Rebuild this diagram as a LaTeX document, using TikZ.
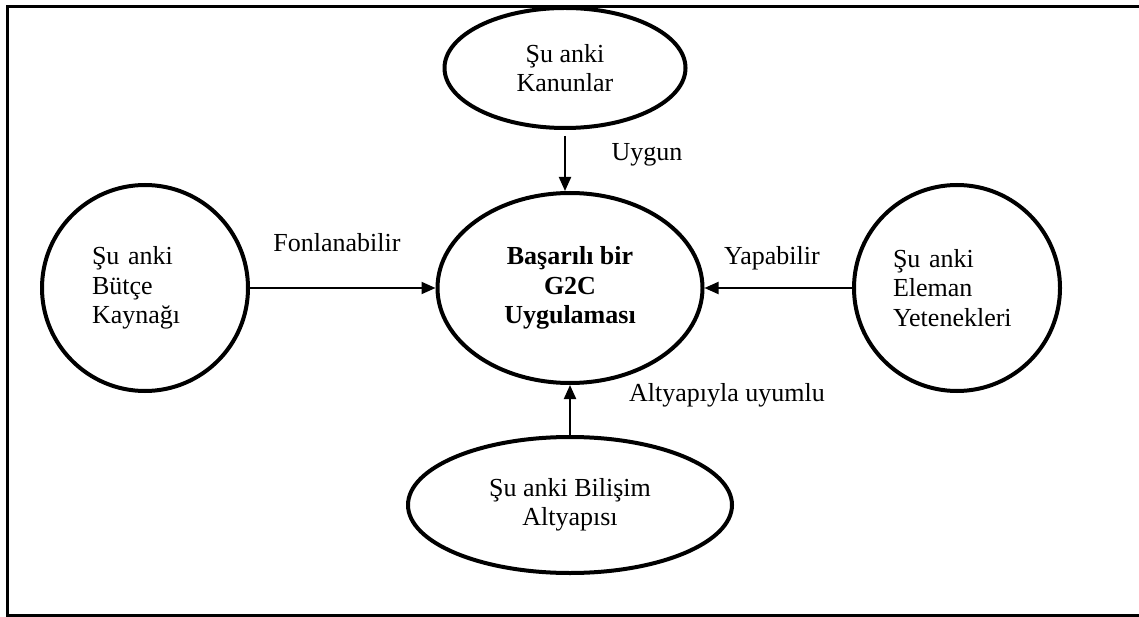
\documentclass[tikz,border=0pt]{standalone}
\usepackage{fontspec}
\setmainfont{Liberation Serif}
\usetikzlibrary{shapes.geometric,arrows.meta}
\begin{document}
\begin{tikzpicture}[x=1pt,y=-1pt,
  every node/.style={font=\fontsize{26}{29.5}\selectfont},
  oval/.style={draw,ellipse,line width=4pt,inner sep=0pt,align=center},
  rnd/.style={draw,circle,line width=4pt,inner sep=0pt,minimum size=206pt,align=left},
  conn/.style={line width=2pt,-{Triangle[length=14pt,width=12pt]}},
  lbl/.style={inner sep=0pt}]
\useasboundingbox (0,0) rectangle (1139,617);
\draw[line width=3pt] (1139,7) -- (7,7) -- (7,615) -- (1139,615);
\node[oval,minimum width=241pt,minimum height=120pt] (kan) at (565,68) {Şu anki\\Kanunlar};
\node[oval,minimum width=265pt,minimum height=190pt,font=\fontsize{26}{29.5}\selectfont\bfseries] (cen) at (570,288) {Başarılı bir\\G2C\\Uygulaması};
\node[rnd,text width=106pt] (but) at (145,288) {Şu anki\\Bütçe\\Kaynağı};
\node[rnd,text width=128pt] (ele) at (957,288) {Şu anki\\Eleman\\Yetenekleri};
\node[oval,minimum width=324pt,minimum height=136pt] (bil) at (570,505) {Şu anki Bilişim\\Altyapısı};
\draw[conn,shorten <=6pt] (kan.south) -- (kan.south |- cen.north);
\draw[conn] (but.east) -- (cen.west);
\draw[conn] (ele.west) -- (cen.east);
\draw[conn] (bil.north) -- (cen.south);
\node[lbl] (l1) at (647,155) {Uygun};
\node[lbl] (l2) at (337,243) {Fonlanabilir};
\node[lbl] (l3) at (772,258) {Yapabilir};
\node[lbl] (l4) at (727,395) {Altyapıyla uyumlu};
\end{tikzpicture}
\end{document}
